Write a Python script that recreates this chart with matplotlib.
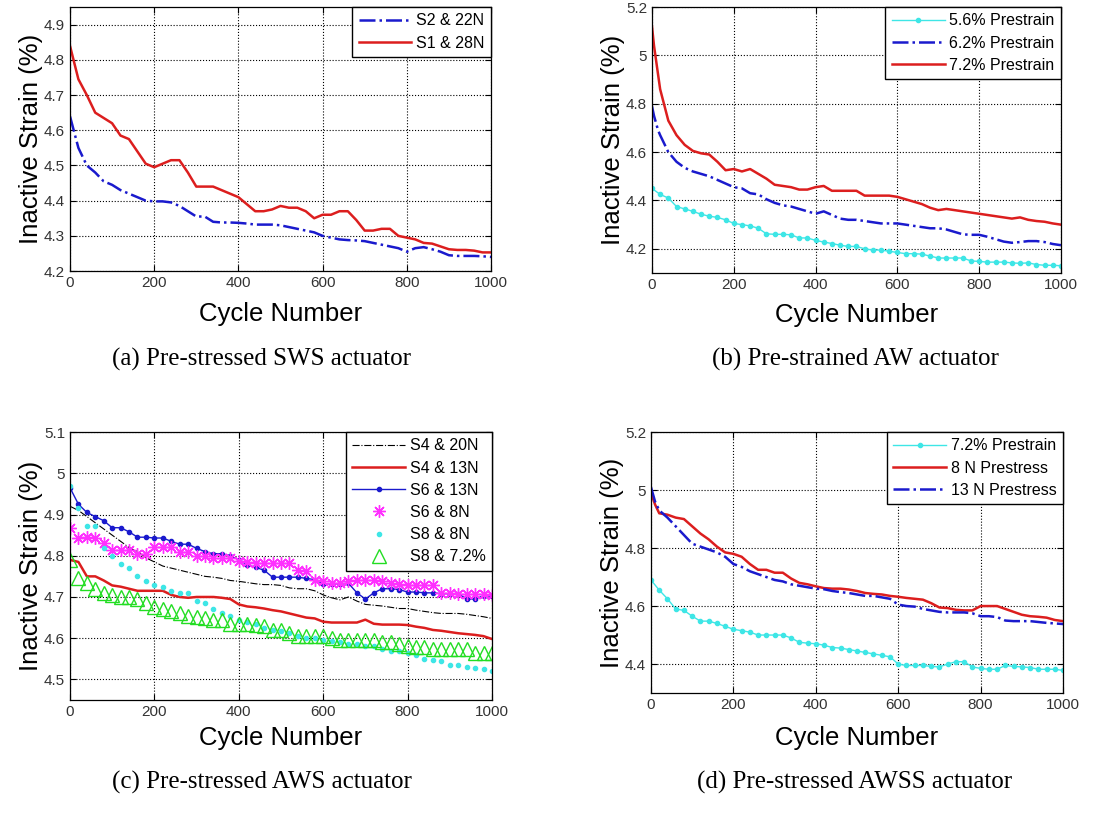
import matplotlib
matplotlib.use('Agg')
import matplotlib.pyplot as plt
from matplotlib.ticker import FuncFormatter

plt.rcParams['font.family'] = ['Liberation Sans', 'DejaVu Sans']

cyc = list(range(0, 1001, 20))

# (a) Pre-stressed SWS actuator
a_s2_22n = [4.64, 4.55, 4.50, 4.48, 4.455, 4.445, 4.43, 4.42, 4.41, 4.40,
            4.398, 4.398, 4.395, 4.385, 4.37, 4.355, 4.355, 4.34, 4.338, 4.338,
            4.337, 4.335, 4.332, 4.332, 4.332, 4.33, 4.325, 4.32, 4.315, 4.31,
            4.30, 4.295, 4.29, 4.288, 4.287, 4.285, 4.28, 4.275, 4.27, 4.265,
            4.255, 4.265, 4.268, 4.262, 4.255, 4.245, 4.243, 4.243, 4.243, 4.242, 4.24]
a_s1_28n = [4.84, 4.745, 4.70, 4.65, 4.635, 4.62, 4.585, 4.575, 4.54, 4.505,
            4.495, 4.505, 4.515, 4.515, 4.48, 4.44, 4.44, 4.44, 4.43, 4.42,
            4.41, 4.39, 4.37, 4.37, 4.375, 4.385, 4.38, 4.38, 4.37, 4.35,
            4.36, 4.36, 4.37, 4.37, 4.345, 4.315, 4.315, 4.32, 4.32, 4.30,
            4.295, 4.29, 4.28, 4.278, 4.27, 4.262, 4.26, 4.26, 4.258, 4.253, 4.253]

# (b) Pre-strained AW actuator
b_x_early = [0, 5, 10, 15] + cyc[1:]
b_56 = [4.45, 4.425, 4.41, 4.375, 4.365, 4.355, 4.343, 4.335, 4.33, 4.32,
        4.305, 4.30, 4.295, 4.285, 4.262, 4.26, 4.26, 4.258, 4.245, 4.245,
        4.235, 4.228, 4.222, 4.215, 4.21, 4.21, 4.20, 4.195, 4.195, 4.19,
        4.185, 4.18, 4.18, 4.178, 4.17, 4.162, 4.162, 4.162, 4.162, 4.15,
        4.148, 4.145, 4.145, 4.145, 4.142, 4.14, 4.142, 4.135, 4.132, 4.132, 4.13]
b_62 = [4.79, 4.75, 4.72, 4.69, 4.67, 4.60, 4.56, 4.535, 4.52, 4.51, 4.50, 4.485, 4.47,
        4.455, 4.45, 4.43, 4.425, 4.405, 4.39, 4.38, 4.375, 4.365, 4.355,
        4.345, 4.355, 4.34, 4.325, 4.32, 4.32, 4.315, 4.31, 4.305, 4.305,
        4.305, 4.30, 4.295, 4.29, 4.285, 4.285, 4.28, 4.27, 4.26, 4.258,
        4.258, 4.25, 4.24, 4.23, 4.225, 4.228, 4.232, 4.232, 4.228, 4.22, 4.215]
b_72 = [5.12, 5.04, 4.98, 4.92, 4.86, 4.73, 4.67, 4.63, 4.605, 4.595, 4.59, 4.56, 4.525,
        4.53, 4.52, 4.53, 4.51, 4.49, 4.465, 4.46, 4.455, 4.445, 4.445,
        4.455, 4.46, 4.44, 4.44, 4.44, 4.44, 4.42, 4.42, 4.42, 4.42,
        4.415, 4.405, 4.395, 4.385, 4.37, 4.36, 4.365, 4.36, 4.355, 4.35,
        4.345, 4.34, 4.335, 4.33, 4.325, 4.33, 4.32, 4.315, 4.312, 4.305, 4.30]

# (c) Pre-stressed AWS actuator
c_s4_20n = [4.92, 4.91, 4.895, 4.88, 4.865, 4.85, 4.835, 4.82, 4.81, 4.795,
            4.785, 4.775, 4.77, 4.765, 4.76, 4.755, 4.75, 4.748, 4.745, 4.74,
            4.738, 4.735, 4.732, 4.73, 4.73, 4.728, 4.722, 4.72, 4.72, 4.715,
            4.705, 4.698, 4.693, 4.70, 4.69, 4.682, 4.68, 4.678, 4.675, 4.672,
            4.672, 4.668, 4.665, 4.662, 4.66, 4.66, 4.66, 4.658, 4.655, 4.652, 4.648]
c_s4_13n = [4.79, 4.785, 4.75, 4.75, 4.74, 4.728, 4.725, 4.72, 4.715, 4.715,
            4.715, 4.715, 4.705, 4.70, 4.698, 4.70, 4.70, 4.70, 4.698, 4.695,
            4.682, 4.677, 4.675, 4.672, 4.668, 4.665, 4.66, 4.655, 4.65, 4.648,
            4.64, 4.638, 4.638, 4.638, 4.638, 4.645, 4.635, 4.633, 4.633, 4.633,
            4.632, 4.628, 4.625, 4.62, 4.618, 4.615, 4.612, 4.61, 4.608, 4.605, 4.598]
c_s6_13n = [4.965, 4.925, 4.905, 4.895, 4.885, 4.868, 4.868, 4.858, 4.845, 4.845,
            4.843, 4.843, 4.835, 4.828, 4.828, 4.818, 4.81, 4.805, 4.805, 4.80,
            4.79, 4.778, 4.772, 4.765, 4.748, 4.748, 4.748, 4.748, 4.745, 4.742,
            4.732, 4.732, 4.732, 4.733, 4.71, 4.695, 4.71, 4.72, 4.72, 4.718,
            4.712, 4.712, 4.71, 4.71, 4.708, 4.708, 4.708, 4.695, 4.695, 4.703, 4.702]
c_s6_8n = [4.868, 4.842, 4.845, 4.842, 4.832, 4.815, 4.815, 4.815, 4.805, 4.805,
           4.822, 4.822, 4.822, 4.808, 4.808, 4.80, 4.80, 4.795, 4.795, 4.795,
           4.788, 4.785, 4.783, 4.782, 4.782, 4.782, 4.782, 4.765, 4.762, 4.742,
           4.738, 4.735, 4.735, 4.738, 4.74, 4.74, 4.74, 4.738, 4.735, 4.732,
           4.73, 4.73, 4.73, 4.73, 4.71, 4.71, 4.708, 4.708, 4.708, 4.708, 4.705]
c_s8_8n = [4.968, 4.915, 4.872, 4.872, 4.82, 4.80, 4.78, 4.77, 4.75, 4.738,
           4.73, 4.725, 4.715, 4.71, 4.71, 4.69, 4.685, 4.672, 4.662, 4.655,
           4.645, 4.64, 4.635, 4.625, 4.62, 4.618, 4.612, 4.605, 4.60, 4.60,
           4.595, 4.592, 4.59, 4.585, 4.585, 4.582, 4.58, 4.575, 4.57, 4.568,
           4.565, 4.56, 4.55, 4.548, 4.545, 4.535, 4.535, 4.53, 4.528, 4.525, 4.52]
c_s8_72 = [4.79, 4.745, 4.735, 4.72, 4.71, 4.705, 4.70, 4.70, 4.695, 4.685,
           4.675, 4.67, 4.665, 4.66, 4.655, 4.652, 4.65, 4.645, 4.645, 4.635,
           4.635, 4.635, 4.632, 4.63, 4.62, 4.62, 4.613, 4.605, 4.605, 4.605,
           4.605, 4.60, 4.595, 4.595, 4.595, 4.595, 4.595, 4.59, 4.59, 4.585,
           4.58, 4.578, 4.578, 4.575, 4.575, 4.575, 4.575, 4.575, 4.565, 4.565, 4.565]

# (d) Pre-stressed AWSS actuator
d_x_early = [0, 10] + cyc[1:]
d_72 = [4.69, 4.655, 4.625, 4.59, 4.585, 4.565, 4.548, 4.548, 4.54, 4.53,
        4.52, 4.515, 4.51, 4.50, 4.50, 4.50, 4.50, 4.49, 4.475, 4.472,
        4.47, 4.465, 4.457, 4.455, 4.45, 4.445, 4.44, 4.435, 4.43, 4.425,
        4.40, 4.395, 4.395, 4.395, 4.392, 4.39, 4.40, 4.408, 4.408, 4.39,
        4.385, 4.382, 4.382, 4.395, 4.392, 4.39, 4.388, 4.382, 4.382, 4.382, 4.378]
d_8n = [4.99, 4.95, 4.92, 4.915, 4.905, 4.90, 4.875, 4.85, 4.83, 4.805, 4.785,
        4.78, 4.77, 4.745, 4.725, 4.725, 4.715, 4.715, 4.695, 4.68, 4.675,
        4.668, 4.662, 4.66, 4.66, 4.657, 4.652, 4.645, 4.642, 4.64, 4.635,
        4.632, 4.628, 4.625, 4.622, 4.61, 4.595, 4.593, 4.587, 4.585, 4.585,
        4.60, 4.60, 4.60, 4.59, 4.58, 4.57, 4.565, 4.563, 4.56, 4.552, 4.548]
d_13n = [5.01, 4.96, 4.93, 4.905, 4.875, 4.845, 4.815, 4.805, 4.795, 4.785, 4.77,
         4.745, 4.735, 4.72, 4.71, 4.70, 4.69, 4.685, 4.675, 4.67, 4.665,
         4.66, 4.658, 4.652, 4.648, 4.645, 4.64, 4.635, 4.635, 4.63, 4.625,
         4.605, 4.60, 4.598, 4.59, 4.585, 4.58, 4.578, 4.578, 4.578, 4.575,
         4.565, 4.565, 4.562, 4.55, 4.548, 4.548, 4.548, 4.545, 4.542, 4.54, 4.538]

RED = '#dc1e1e'
BLUE = '#1a1acd'
CYAN = '#3ee6e6'
MAG = '#ff30ff'
GREEN = '#22dd22'

fig = plt.figure(figsize=(10.95, 8.14), dpi=100)
ax_a = fig.add_axes([0.0639, 0.667, 0.3845, 0.3243])
ax_b = fig.add_axes([0.5954, 0.6646, 0.3735, 0.3268])
ax_c = fig.add_axes([0.0639, 0.140, 0.3854, 0.3292])
ax_d = fig.add_axes([0.5945, 0.1486, 0.3763, 0.3206])


def style(ax, ylim, yticks, xpad=4):
    ax.set_xlim(0, 1000)
    ax.set_ylim(*ylim)
    ax.set_xticks(range(0, 1001, 200))
    ax.set_yticks(yticks)
    ax.yaxis.set_major_formatter(FuncFormatter(lambda v, p: '%g' % round(v, 2)))
    ax.tick_params(direction='in', top=True, right=True, labelsize=11, length=4,
                   labelcolor='#333333')
    ax.grid(True, linestyle=':', color='k', linewidth=0.8)
    ax.set_xlabel('Cycle Number', fontsize=18.5, labelpad=xpad)
    ax.set_ylabel('Inactive Strain (%)', fontsize=18.5, labelpad=1)
    for s in ax.spines.values():
        s.set_linewidth(0.9)


def leg(ax):
    ax.legend(loc='upper right', fancybox=False, edgecolor='k', framealpha=1,
              fontsize=11.5, handlelength=3.3, borderaxespad=0, numpoints=1,
              labelspacing=0.45, handletextpad=0.3, borderpad=0.4)


# (a)
ax_a.plot(cyc, a_s2_22n, color=BLUE, linestyle='-.', linewidth=1.8, label='S2 & 22N')
ax_a.plot(cyc, a_s1_28n, color=RED, linestyle='-', linewidth=1.8, label='S1 & 28N')
style(ax_a, (4.2, 4.95), [4.2, 4.3, 4.4, 4.5, 4.6, 4.7, 4.8, 4.9], xpad=9)
leg(ax_a)

# (b)
ax_b.plot(cyc, b_56, color=CYAN, linestyle='-', linewidth=1.0, marker='o',
          markersize=3, label='5.6% Prestrain')
ax_b.plot(b_x_early, b_62, color=BLUE, linestyle='-.', linewidth=1.8, label='6.2% Prestrain')
ax_b.plot(b_x_early, b_72, color=RED, linestyle='-', linewidth=1.8, label='7.2% Prestrain')
style(ax_b, (4.1, 5.2), [4.2, 4.4, 4.6, 4.8, 5.0, 5.2], xpad=8)
leg(ax_b)

# (c)
ax_c.plot(cyc, c_s4_20n, color='k', linestyle='-.', linewidth=0.8, label='S4 & 20N')
ax_c.plot(cyc, c_s4_13n, color=RED, linestyle='-', linewidth=1.8, label='S4 & 13N')
ax_c.plot(cyc, c_s6_13n, color=BLUE, linestyle='-', linewidth=1.0, marker='o',
          markersize=3, label='S6 & 13N')
ax_c.plot(cyc, c_s6_8n, color=MAG, linestyle='none', marker=(8, 2, 0),
          markersize=9, markeredgewidth=1.0, label='S6 & 8N')
ax_c.plot(cyc, c_s8_8n, color=CYAN, linestyle='none', marker='o',
          markersize=3, label='S8 & 8N')
ax_c.plot(cyc, c_s8_72, color=GREEN, linestyle='none', marker='^', markersize=10,
          markerfacecolor='none', markeredgewidth=1.0, label='S8 & 7.2%')
style(ax_c, (4.45, 5.1), [4.5, 4.6, 4.7, 4.8, 4.9, 5.0, 5.1], xpad=5)
leg(ax_c)

# (d)
ax_d.plot(cyc, d_72, color=CYAN, linestyle='-', linewidth=1.0, marker='o',
          markersize=3, label='7.2% Prestrain')
ax_d.plot(d_x_early, d_8n, color=RED, linestyle='-', linewidth=1.8, label='8 N Prestress')
ax_d.plot(d_x_early, d_13n, color=BLUE, linestyle='-.', linewidth=1.8, label='13 N Prestress')
style(ax_d, (4.3, 5.2), [4.4, 4.6, 4.8, 5.0, 5.2], xpad=10)
leg(ax_d)

cap = dict(fontsize=18, family=['Liberation Serif', 'DejaVu Serif'], ha='center', va='center')
fig.text(262 / 1095, 1 - 359 / 814, '(a) Pre-stressed SWS actuator', **cap)
fig.text(855 / 1095, 1 - 359 / 814, '(b) Pre-strained AW actuator', **cap)
fig.text(262 / 1095, 1 - 782 / 814, '(c) Pre-stressed AWS actuator', **cap)
fig.text(855 / 1095, 1 - 782 / 814, '(d) Pre-stressed AWSS actuator', **cap)

fig.savefig('out.png', dpi=100)
